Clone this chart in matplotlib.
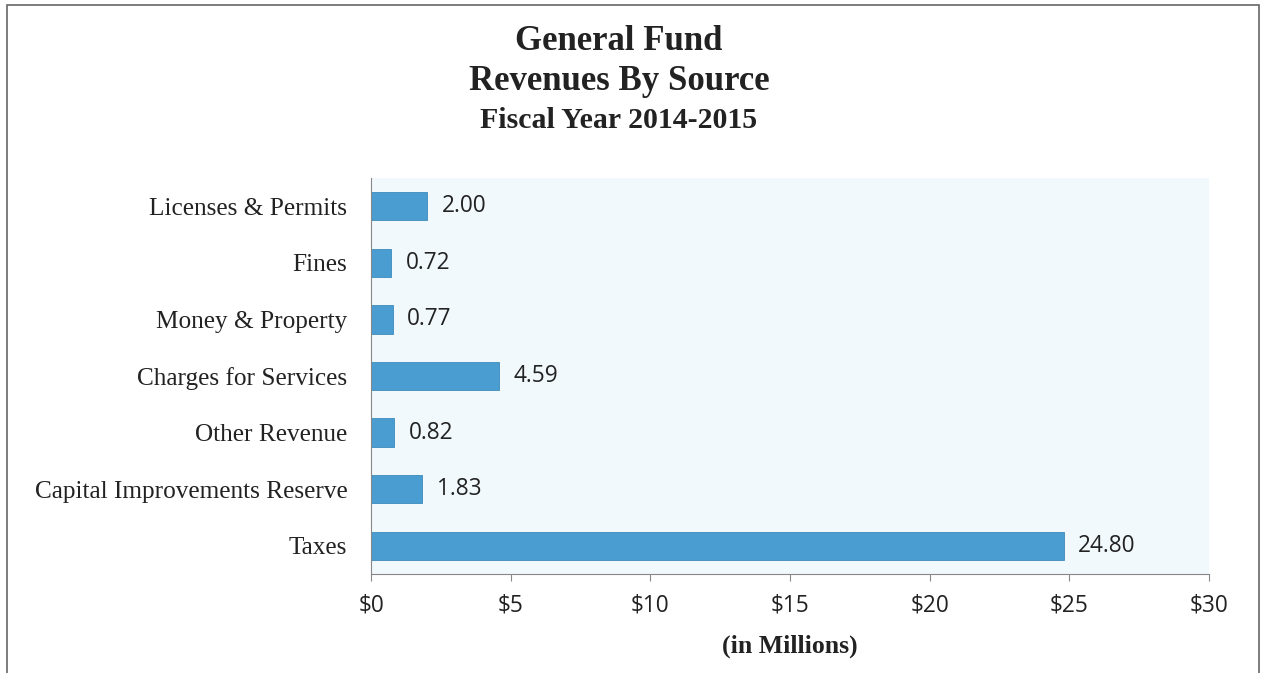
import numpy as np
import matplotlib
matplotlib.use("Agg")
import matplotlib.pyplot as plt
from matplotlib.patches import Rectangle

# revenue sources, bottom to top
categories = ["Taxes", "Capital Improvements Reserve", "Other Revenue",
              "Charges for Services", "Money & Property", "Fines",
              "Licenses & Permits"]
revenues = [24.80, 1.83, 0.82, 4.59, 0.77, 0.72, 2.00]
xticks = [0, 5, 10, 15, 20, 25, 30]

serif = "Liberation Serif"
sans = "Open Sans"

fig = plt.figure(figsize=(12.61, 6.73), dpi=100)
ax = fig.add_axes([371 / 1261, 1 - 574 / 673, (1209 - 371) / 1261, (574 - 178) / 673])
ax.set_facecolor("#f1f9fd")

y = np.arange(len(categories))
ax.barh(y, revenues, height=0.5, color="#4a9dd0", edgecolor="#3d8bbd", linewidth=0.6)
for yi, v in zip(y, revenues):
    ax.text(v + 0.52, yi, f"{v:.2f}", va="center", ha="left",
            fontsize=16.3, family=sans, color="#222222")

ax.set_xlim(0, 30)
ax.set_ylim(-0.5, len(categories) - 0.5)
ax.set_yticks(y)
ax.set_yticklabels(categories, family=serif, fontsize=18.2, color="#222222")
ax.set_xticks(xticks)
ax.set_xticklabels([f"${t}" for t in xticks], family=sans, fontsize=16.3, color="#222222")
ax.tick_params(axis="y", length=0, pad=17)
ax.tick_params(axis="x", direction="out", length=5, color="#888888", pad=9)
for s in ["top", "right"]:
    ax.spines[s].set_visible(False)
ax.spines["left"].set_color("#888888")
ax.spines["bottom"].set_color("#888888")

ax.set_xlabel("(in Millions)", family=serif, fontsize=18.5, fontweight="bold",
              labelpad=12, color="#222222")

# three-line heading
tx = 619 / 1261
fig.text(tx, 1 - 41 / 673, "General Fund", ha="center", va="center",
         family=serif, fontsize=25, fontweight="bold", color="#222222")
fig.text(tx, 1 - 82 / 673, "Revenues By Source", ha="center", va="center",
         family=serif, fontsize=25, fontweight="bold", color="#222222")
fig.text(tx, 1 - 120 / 673, "Fiscal Year 2014-2015", ha="center", va="center",
         family=serif, fontsize=21.5, fontweight="bold", color="#222222")

# outer frame
fig.patches.append(Rectangle((7 / 1261, -0.01), (1259 - 7) / 1261, 1 - 5 / 673 + 0.01,
                             transform=fig.transFigure, fill=False,
                             edgecolor="#666666", linewidth=1.2))

fig.savefig("out.png", dpi=100)
